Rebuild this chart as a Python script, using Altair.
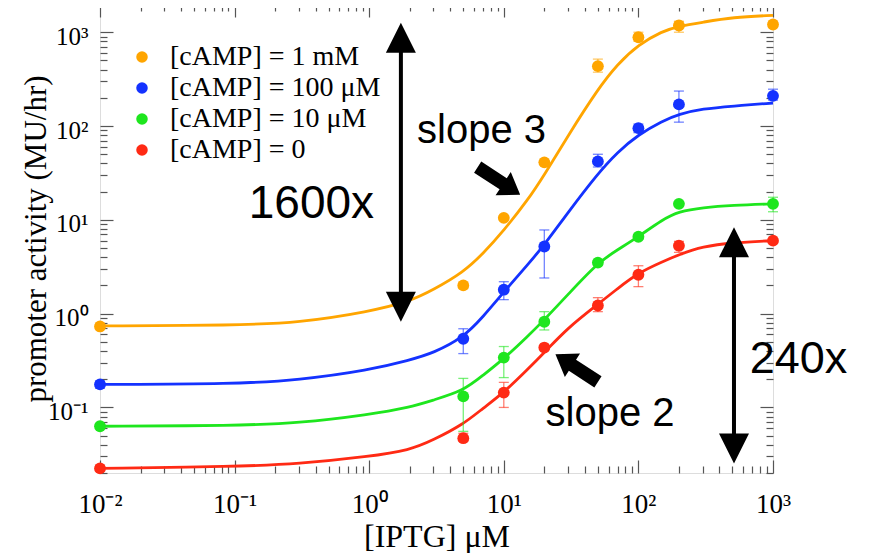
import altair as alt
import pandas as pd

# ---------------- data ----------------
series = ["[cAMP] = 1 mM", "[cAMP] = 100 μM", "[cAMP] = 10 μM", "[cAMP] = 0"]
colors = ["#FFA500", "#1432FF", "#1EE61E", "#FF2A14"]

iptg = [0.01, 5, 10, 20, 50, 100, 200, 1000]
act_1mM = [0.73, 2.0, 10.5, 41, 435, 885, 1180, 1210]
act_100uM = [0.176, 0.54, 1.8, 5.2, 42, 95, 170, 210]
act_10uM = [0.063, 0.131, 0.34, 0.82, 3.5, 6.6, 14.8, 14.8]
act_0 = [0.0224, 0.047, 0.144, 0.435, 1.22, 2.6, 5.3, 6.0]

lo_1mM = [0.70, 1.85, 10.0, 39, 375, 800, 1000, 1150]
hi_1mM = [0.76, 2.15, 11.0, 43, 517, 1000, 1310, 1270]
lo_100uM = [0.16, 0.375, 1.41, 2.4, 36.6, 85, 110, 189]
hi_100uM = [0.19, 0.69, 2.19, 7.8, 50, 105, 236, 247]
lo_10uM = [0.06, 0.0556, 0.208, 0.67, 3.3, 6.2, 14.0, 12.2]
hi_10uM = [0.066, 0.204, 0.446, 1.05, 3.7, 7.0, 15.6, 17.4]
lo_0 = [0.021, 0.044, 0.10, 0.42, 1.05, 1.94, 4.5, 5.7]
hi_0 = [0.024, 0.053, 0.185, 0.45, 1.48, 3.24, 5.9, 6.3]

curve_x = [0.01, 0.1, 0.3, 1, 2, 3, 5, 7, 10, 15, 20, 30, 50, 70, 100, 150, 200, 300, 500, 1000]
fit_1mM = [0.74, 0.75, 0.80, 1.05, 1.35, 1.80, 2.76, 4.35, 7.7, 16.1, 30.1, 79, 248, 457, 736, 1025, 1160, 1277, 1445, 1515]
fit_100uM = [0.176, 0.178, 0.196, 0.25, 0.32, 0.38, 0.556, 0.92, 1.7, 3.3, 5.4, 12.0, 31.2, 52.8, 81, 113, 134, 153, 163, 176]
fit_10uM = [0.063, 0.064, 0.068, 0.084, 0.10, 0.12, 0.15, 0.22, 0.33, 0.57, 0.86, 1.6, 3.5, 4.8, 6.6, 10.0, 12.3, 13.5, 14.3, 14.8]
fit_0 = [0.0224, 0.0234, 0.025, 0.030, 0.035, 0.045, 0.066, 0.098, 0.144, 0.254, 0.385, 0.71, 1.26, 1.85, 2.73, 3.57, 4.25, 5.2, 5.7, 6.0]

x_major = [0.01, 0.1, 1, 10, 100, 1000]
x_major_labels = ["10⁻²", "10⁻¹", "10⁰", "10¹", "10²", "10³"]
x_minor = [m * d for d in [0.01, 0.1, 1, 10, 100] for m in range(2, 10)]
y_major = [0.1, 1, 10, 100, 1000]
y_major_labels = ["10⁻¹", "10⁰", "10¹", "10²", "10³"]
y_minor = [m * d for d in [0.01, 0.1, 1, 10, 100] for m in range(2, 10)]

# annotations (data coordinates)
dbl_arrow_x = [1.72, 513]
dbl_arrow_top = [874, 5.77]
dbl_arrow_bottom = [1.187, 0.0366]
block_arrow_x = [9.2, 34.8]
block_arrow_y = [26, 0.263]
block_arrow_angle = [33, 213]
note_text = ["1600x", "slope 3", "slope 2", "240x"]
note_x = [0.372, 6.83, 61.5, 1548]
note_y = [10.5, 65.9, 0.0628, 0.2355]
note_size = [46, 40, 40, 45]

# ---------------- tables ----------------
pts_rows, fit_rows = [], []
for s, v, lo, hi, f in zip(series,
                           [act_1mM, act_100uM, act_10uM, act_0],
                           [lo_1mM, lo_100uM, lo_10uM, lo_0],
                           [hi_1mM, hi_100uM, hi_10uM, hi_0],
                           [fit_1mM, fit_100uM, fit_10uM, fit_0]):
    for xi, vi, li, hii in zip(iptg, v, lo, hi):
        pts_rows.append({"x": xi, "y": vi, "lo": li, "hi": hii, "s": s})
    for xi, fi in zip(curve_x, f):
        fit_rows.append({"x": xi, "y": fi, "s": s})
pts = pd.DataFrame(pts_rows)
fits = pd.DataFrame(fit_rows)

shafts = pd.DataFrame({"x": dbl_arrow_x, "y": dbl_arrow_top, "y2": dbl_arrow_bottom})
heads_up = pd.DataFrame({"x": dbl_arrow_x, "y": dbl_arrow_top})
heads_down = pd.DataFrame({"x": dbl_arrow_x, "y": dbl_arrow_bottom})
blocks = pd.DataFrame({"x": block_arrow_x, "y": block_arrow_y, "a": block_arrow_angle})
notes = pd.DataFrame({"x": note_x, "y": note_y, "t": note_text, "fs": note_size})

# ---------------- styling ----------------
serif = "Liberation Serif"
sans = "Liberation Sans"
axc = "#555555"
xs = alt.Scale(type="log", domain=[0.01, 1000], nice=False)
ys = alt.Scale(type="log", domain=[0.02, 2000], nice=False)
cs = alt.Scale(domain=series, range=colors)


def lab_expr(vals, labels):
    parts = [f"abs(datum.value - {v}) < {v / 100} ? '{l}'" for v, l in zip(vals, labels)]
    return " : ".join(parts) + " : ''"


def axis(orient, values, size, labels=False, **kw):
    return alt.Axis(orient=orient, values=values, offset=-size, tickSize=size,
                    tickColor=axc, tickWidth=1.2, domain=False, grid=False,
                    labels=labels, **kw)


x_bottom_major = axis("bottom", x_major, 13, labels=True,
                      labelExpr=lab_expr(x_major, x_major_labels), labelFont=serif,
                      labelFontSize=27, labelColor="black", labelPadding=18,
                      labelFlush=False, labelOverlap=False,
                      title="[IPTG] μM", titleFont=serif, titleFontSize=32,
                      titleFontWeight="normal", titleColor="black", titlePadding=4)
y_left_major = axis("left", y_major, 13, labels=True,
                    labelExpr=lab_expr(y_major, y_major_labels), labelFont=serif,
                    labelFontSize=25, labelColor="black", labelPadding=12,
                    labelFlush=False, labelOverlap=False, labelOffset=4,
                    title="promoter activity (MU/hr)", titleFont=serif,
                    titleFontSize=31, titleFontWeight="normal", titleColor="black",
                    titlePadding=-5)
x_bottom_minor = axis("bottom", x_minor, 7, title=None)
y_left_minor = axis("left", y_minor, 7, title=None)
x_top_major = axis("top", x_major, 13, title=None)
y_right_major = axis("right", y_major, 13, title=None)
x_top_minor = axis("top", x_minor, 7, title=None)
y_right_minor = axis("right", y_minor, 7, title=None)


def axis_layer(ax, ay):
    return alt.Chart(pts).mark_point(opacity=0).encode(
        x=alt.X("x:Q", scale=xs, axis=ax),
        y=alt.Y("y:Q", scale=ys, axis=ay),
    )


ax_layers = [
    axis_layer(x_bottom_major, y_left_major),
    axis_layer(x_bottom_minor, y_left_minor),
    axis_layer(x_top_major, y_right_major),
    axis_layer(x_top_minor, y_right_minor),
]

X = lambda f="x": alt.X(f"{f}:Q", scale=xs, axis=None)
Y = lambda f="y": alt.Y(f"{f}:Q", scale=ys, axis=None)

lines = alt.Chart(fits).mark_line(strokeWidth=2.8, interpolate="basis").encode(
    x=X(), y=Y(), color=alt.Color("s:N", scale=cs, legend=None), detail="s:N")

errs = alt.Chart(pts).mark_errorbar(
    ticks={"size": 10, "opacity": 0.6}, rule={"opacity": 0.6}, thickness=1.3
).encode(x=X(), y=Y("lo"), y2="hi:Q", color=alt.Color("s:N", scale=cs, legend=None))

points = alt.Chart(pts).mark_circle(size=140, opacity=1).encode(
    x=X(), y=Y(),
    color=alt.Color("s:N", scale=cs, sort=series,
                    legend=alt.Legend(title=None, orient="none", legendX=28, legendY=39,
                                      labelFont=serif, labelFontSize=28,
                                      labelColor="black", labelOffset=14,
                                      labelLimit=400,
                                      symbolSize=133, symbolType="circle",
                                      symbolStrokeWidth=0, rowPadding=3, padding=0)))

shaft_layer = alt.Chart(shafts).mark_rule(strokeWidth=4, color="black").encode(
    x=X(), y=Y(), y2="y2:Q")
up_layer = alt.Chart(heads_up).mark_point(
    shape="M-1,1L1,1L0,-1Z", filled=True, size=900, color="black", opacity=1
).encode(x=X(), y=Y())
down_layer = alt.Chart(heads_down).mark_point(
    shape="M-1,-1L1,-1L0,1Z", filled=True, size=900, color="black", opacity=1
).encode(x=X(), y=Y())
block_layer = alt.Chart(blocks).mark_point(
    shape="M-1,-0.26L0.2,-0.26L0.2,-0.55L1,0L0.2,0.55L0.2,0.26L-1,0.26Z",
    filled=True, size=2570, color="black", opacity=1
).encode(x=X(), y=Y(), angle=alt.Angle("a:Q", scale=None))
text_layer = alt.Chart(notes).mark_text(
    font=sans, align="center", baseline="alphabetic", color="black"
).encode(x=X(), y=Y(), text="t:N", size=alt.Size("fs:Q", scale=None))

chart = alt.layer(
    *ax_layers, lines, errs, points, shaft_layer, up_layer, down_layer,
    block_layer, text_layer
).resolve_axis(x="independent", y="independent").resolve_legend(
    color="independent"
).properties(
    width=673, height=469,
    padding={"left": 92, "top": -4, "right": 88, "bottom": 80},
    autosize=alt.AutoSizeParams(type="none"),
).configure_view(stroke=axc, strokeWidth=1.5).configure(background="white")

chart.save("out.html", embed_options={"renderer": "svg", "actions": False})
